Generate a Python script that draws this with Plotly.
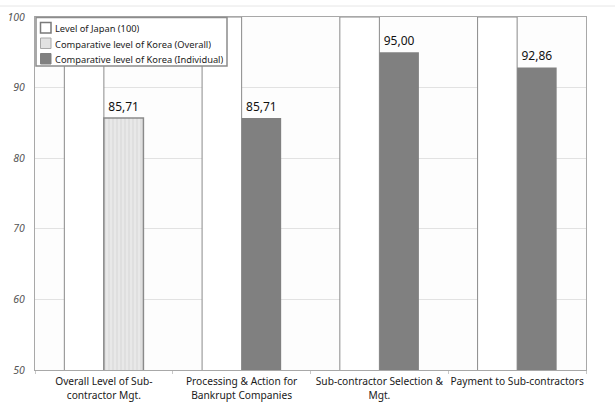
import plotly.graph_objects as go

# Data
categories = [
    "Overall Level of Sub-<br>contractor Mgt.",
    "Processing & Action for<br>Bankrupt Companies",
    "Sub-contractor Selection &<br>Mgt.",
    "Payment to Sub-contractors",
]
japan_level = [100, 100, 100, 100]
korea_overall_cats = categories[:1]
korea_overall = [85.71]
korea_individual_cats = categories[1:]
korea_individual = [85.71, 95.00, 92.86]
y_ticks = [50, 60, 70, 80, 90, 100]

legend_labels = [
    "Level of Japan (100)",
    "Comparative level of Korea (Overall)",
    "Comparative level of Korea (Individual)",
]

W, H = 615, 405
ML, MR, MT, MB = 35, 29, 17, 35
FONT = "Noto Sans"
BAR_W = 0.287

fig = go.Figure()

fig.add_trace(go.Bar(
    x=categories, y=japan_level, name=legend_labels[0],
    width=BAR_W, offset=-BAR_W,
    marker=dict(color="#ffffff", line=dict(color="#8a8a8a", width=1)),
    hoverinfo="skip",
))
fig.add_trace(go.Bar(
    x=korea_overall_cats, y=korea_overall, name=legend_labels[1],
    width=BAR_W, offset=0,
    marker=dict(
        color="#e4e4e4",
        line=dict(color="#8a8a8a", width=1.5),
        pattern=dict(shape="|", fgcolor="#c4c4c4", bgcolor="#e8e8e8",
                     size=4, solidity=0.25),
    ),
    texttemplate="%{y:.2f}", textposition="outside",
    textfont=dict(family=FONT, size=12, color="#111111"),
))
fig.add_trace(go.Bar(
    x=korea_individual_cats, y=korea_individual, name=legend_labels[2],
    width=BAR_W, offset=0,
    marker=dict(color="#808080", line=dict(width=0)),
    texttemplate="%{y:.2f}", textposition="outside",
    textfont=dict(family=FONT, size=12, color="#111111"),
))

# Legend drawn as a framed box in the upper-left corner of the plot
def px(x):
    return (x - ML) / (W - ML - MR)

def py(y):
    return (H - MB - y) / (H - MT - MB)

shapes = [
    # thin frame line across the top of the page
    dict(type="line", xref="paper", yref="paper",
         x0=px(0), x1=px(W), y0=py(6), y1=py(6),
         line=dict(color="#e6e6e6", width=1), layer="below"),
    dict(type="rect", xref="paper", yref="paper",
         x0=px(36), x1=px(227), y0=py(17.5), y1=py(66),
         fillcolor="#ffffff", line=dict(color="#8c8c8c", width=1.5), layer="above"),
]
swatch_styles = [
    dict(fillcolor="#ffffff", line=dict(color="#7a7a7a", width=1.5)),
    dict(fillcolor="#e2e2e2", line=dict(color="#a8a8a8", width=1)),
    dict(fillcolor="#808080", line=dict(color="#808080", width=1)),
]
row_y = [28, 43.5, 59]
annotations = []
for label, style, yc in zip(legend_labels, swatch_styles, row_y):
    shapes.append(dict(type="rect", xref="paper", yref="paper",
                       x0=px(40.5), x1=px(51), y0=py(yc - 5.5), y1=py(yc + 5),
                       layer="above", **style))
    annotations.append(dict(xref="paper", yref="paper", x=px(53), y=py(yc),
                            xanchor="left", yanchor="middle", showarrow=False,
                            text=label, height=14,
                            font=dict(family=FONT, size=9.3, color="#222222")))

fig.update_layout(
    width=W, height=H,
    margin=dict(l=ML, r=MR, t=MT, b=MB),
    barmode="overlay",
    separators=",.",
    showlegend=False,
    paper_bgcolor="#ffffff",
    plot_bgcolor="#fdfdfd",
    font=dict(family=FONT, color="#222222"),
    shapes=shapes,
    annotations=annotations,
)
fig.update_xaxes(
    automargin=False, tickangle=0,
    showline=True, linecolor="#a8a8a8", linewidth=1, mirror=True,
    ticks="outside", tickson="boundaries", ticklen=3, tickcolor="#c8c8c8",
    ticklabelstandoff=2,
    tickfont=dict(family=FONT, size=10.2, color="#1a1a1a"),
    showgrid=False,
)
fig.update_yaxes(
    automargin=False,
    range=[50, 100], tickvals=y_ticks,
    showline=True, linecolor="#a8a8a8", linewidth=1, mirror=True,
    showgrid=True, gridcolor="#e2e2e2", gridwidth=1,
    ticks="", ticklabelstandoff=7,
    tickfont=dict(family=FONT, size=10.5, color="#555555", style="italic"),
    zeroline=False,
)

fig.write_html("out.html")
